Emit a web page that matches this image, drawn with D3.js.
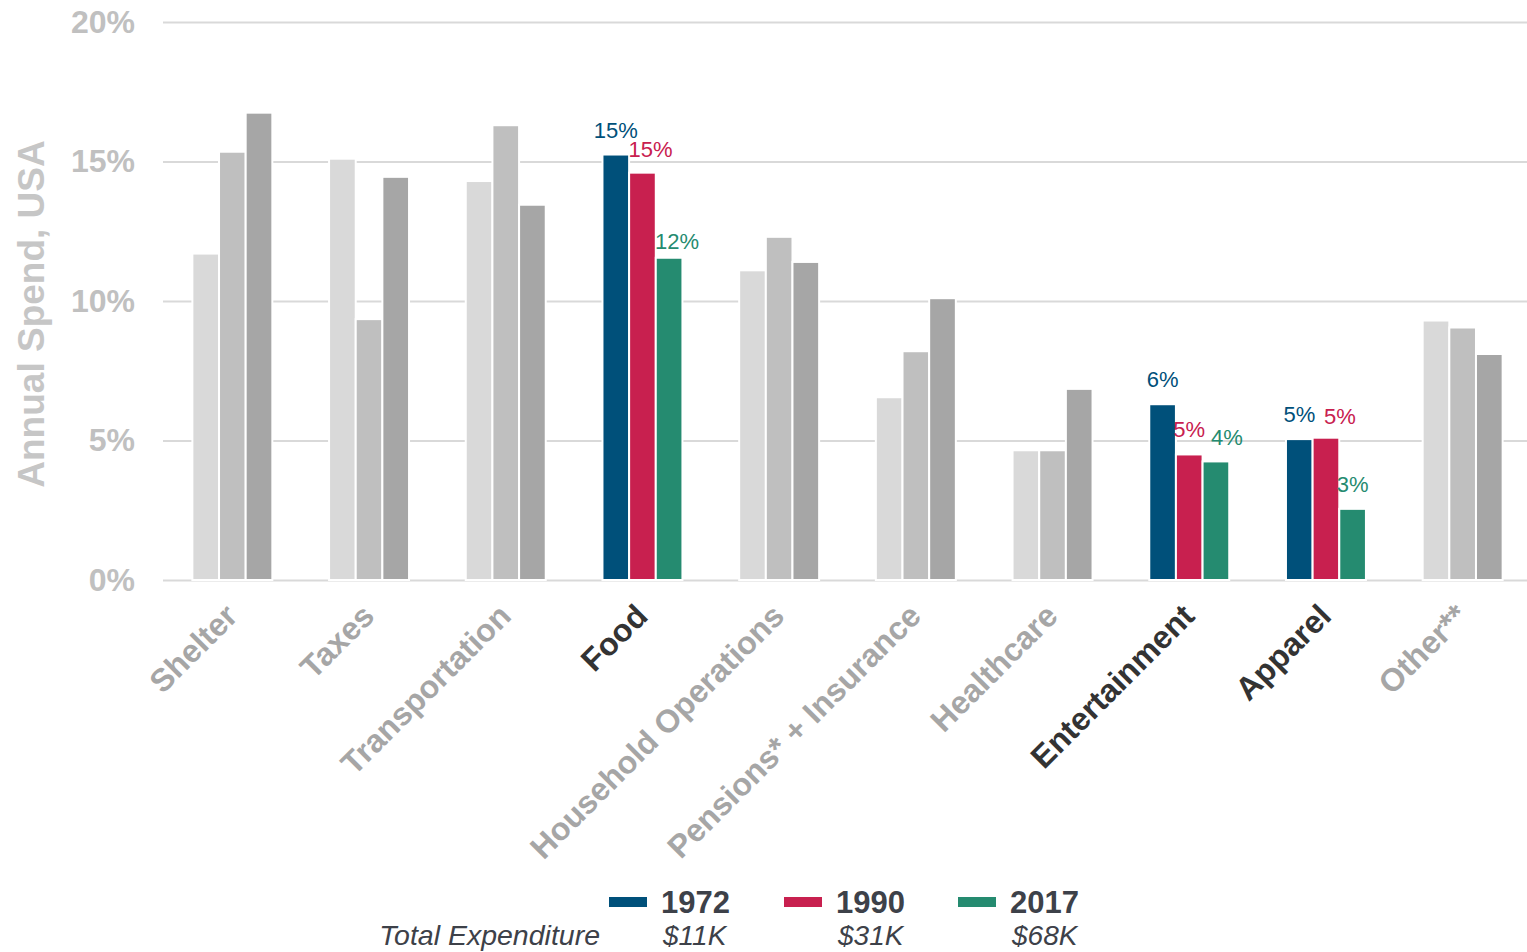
<!DOCTYPE html>
<html><head><meta charset="utf-8">
<script src="https://cdn.jsdelivr.net/npm/d3@7"></script>
<style>body{margin:0;background:#fff;} svg{display:block;font-family:"Liberation Sans",Arial,sans-serif;}</style>
</head><body><svg id="c" width="1527" height="952"></svg>
<script>
const categories = ["Shelter","Taxes","Transportation","Food","Household Operations","Pensions* + Insurance","Healthcare","Entertainment","Apparel","Other**"];
const highlighted = ["Food","Entertainment","Apparel"];
const years = ["1972","1990","2017"];
const totals = ["$11K","$31K","$68K"];
const v1972 = [11.7, 15.1, 14.3, 15.25, 11.1, 6.55, 4.65, 6.3, 5.05, 9.3];
const v1990 = [15.35, 9.35, 16.3, 14.6, 12.3, 8.2, 4.65, 4.5, 5.1, 9.05];
const v2017 = [16.75, 14.45, 13.45, 11.55, 11.4, 10.1, 6.85, 4.25, 2.55, 8.1];
const yTicks = [0, 5, 10, 15, 20];

const series = [v1972, v1990, v2017];
const colors = ["#00507a", "#c8204f", "#258b70"];
const grays = ["#d9d9d9", "#bfbfbf", "#a6a6a6"];
// small manual nudges of value labels [dx, dy] per highlighted bar
const labelNudge = {"Food":[[0,0],[8,1],[8,8]],"Entertainment":[[0,0],[0,0],[11,1]],"Apparel":[[0,0],[14,3],[0,0]]};

const svg = d3.select("#c");
const y = d3.scaleLinear().domain([0,20]).range([580,22]);
const x0 = d3.scaleBand().domain(categories).range([164,1531]).paddingInner(0.415).paddingOuter(0.2075);
const x1 = d3.scaleBand().domain(years).range([0,x0.bandwidth()]).padding(0);

// gridlines
const grid = svg.append("g")
  .call(d3.axisLeft(y).tickValues(yTicks).tickSize(-(1527-163)).tickFormat(d=>d+"%"))
  .attr("transform","translate(163,0)");
grid.select(".domain").remove();
grid.selectAll(".tick line").attr("stroke","#d9d9d9").attr("stroke-width",2);
grid.selectAll(".tick text").attr("x",-28).attr("fill","#c0c0c0").attr("font-size",32).attr("font-weight","bold")
  .attr("font-family","Liberation Sans, Arial, sans-serif");

// bars
categories.forEach((c,i)=>{
  const hl = highlighted.includes(c);
  const g = svg.append("g").attr("transform",`translate(${x0(c)},0)`);
  years.forEach((yr,j)=>{
    const v = series[j][i];
    g.append("rect").attr("x",x1(yr)).attr("width",x1.bandwidth())
      .attr("y",y(v)).attr("height",y(0)-y(v))
      .attr("fill", hl ? colors[j] : grays[j])
      .attr("stroke","#fff").attr("stroke-width",2);
    if(hl){
      const n = labelNudge[c][j];
      g.append("text").attr("x",x1(yr)+x1.bandwidth()/2+n[0]).attr("y",y(v)-17+n[1])
        .attr("text-anchor","middle").attr("font-size",22).attr("fill",colors[j])
        .text(Math.round(v)+"%");
    }
  });
});

// x labels
categories.forEach(c=>{
  const hl = highlighted.includes(c);
  const cx = x0(c)+x0.bandwidth()/2;
  svg.append("text").attr("transform",`translate(${cx+7},${618}) rotate(-45)`)
    .attr("text-anchor","end").attr("font-size",32).attr("font-weight","bold")
    .attr("fill", hl ? "#333333" : "#a6a6a6").text(c);
});

// y title
svg.append("text").attr("transform","translate(44,314) rotate(-90)").attr("text-anchor","middle")
  .attr("font-size",37).attr("font-weight","bold").attr("fill","#c6c6c6").text("Annual Spend, USA");

// legend
const lx = [609, 784, 958];
years.forEach((yr,j)=>{
  svg.append("rect").attr("x",lx[j]).attr("y",897).attr("width",38).attr("height",10).attr("fill",colors[j]);
  svg.append("text").attr("x",lx[j]+52).attr("y",913).attr("font-size",31).attr("font-weight","bold")
    .attr("fill","#3d4149").text(yr);
  svg.append("text").attr("x",lx[j]+54).attr("y",945).attr("font-size",28).attr("font-style","italic")
    .attr("fill","#3d4149").text(totals[j]);
});
svg.append("text").attr("x",600).attr("y",945).attr("text-anchor","end").attr("font-size",28.5).attr("font-style","italic")
  .attr("fill","#3d4149").text("Total Expenditure");
</script></body></html>
